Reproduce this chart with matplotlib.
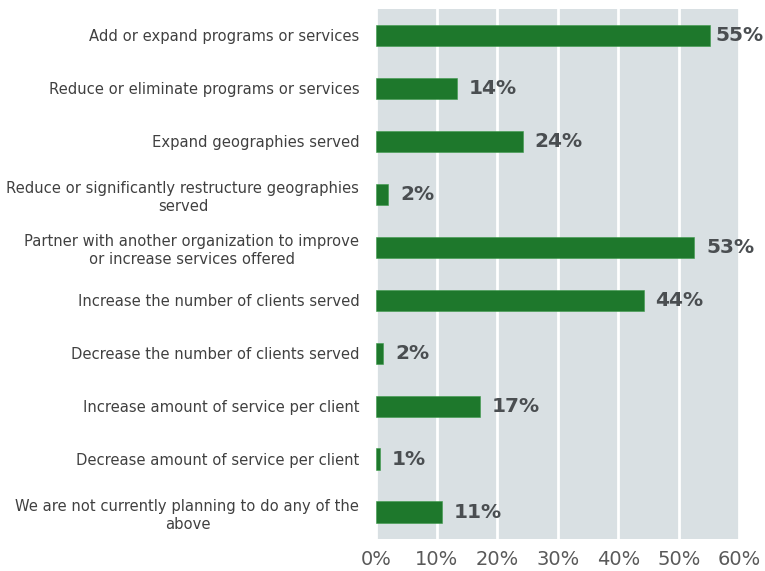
#!/usr/bin/env python3
"""Planned changes: horizontal bar chart of share of respondents."""
import matplotlib
matplotlib.use('Agg')
import matplotlib.pyplot as plt
from matplotlib.ticker import FuncFormatter

CATEGORIES = [
    'Add or expand programs or services',
    'Reduce or eliminate programs or services',
    'Expand geographies served',
    'Reduce or significantly restructure geographies\nserved',
    'Partner with another organization to improve\nor increase services offered',
    'Increase the number of clients served',
    'Decrease the number of clients served',
    'Increase amount of service per client',
    'Decrease amount of service per client',
    'We are not currently planning to do any of the\nabove',
]
VALUES = [55.2, 13.4, 24.2, 2.0, 52.6, 44.2, 1.2, 17.2, 0.7, 10.9]
VALUE_LABELS = ['55%', '14%', '24%', '2%', '53%', '44%', '2%', '17%', '1%', '11%']
X_TICKS = [0, 10, 20, 30, 40, 50, 60]

BAR_COLOR = '#1e782c'
BG_COLOR = '#d9e0e3'
TEXT_COLOR = '#404040'
VALUE_COLOR = '#4a4e51'

W, H = 765, 571
fig = plt.figure(figsize=(W / 100, H / 100), dpi=100)
ax = fig.add_axes([376 / W, 1 - 538.5 / H, 363.3 / W, 529.5 / H])
ax.set_facecolor(BG_COLOR)

ypos = list(range(len(CATEGORIES)))
ax.barh(ypos, VALUES, height=0.4, color=BAR_COLOR, edgecolor='#3d9a4a',
        linewidth=0.4, zorder=3)

ax.set_xlim(0, 60)
ax.set_ylim(len(CATEGORIES) - 0.5, -0.5)
ax.set_xticks(X_TICKS)
ax.xaxis.set_major_formatter(FuncFormatter(lambda v, _: f'{v:.0f}%'))
ax.grid(axis='x', color='white', linewidth=2, zorder=1)
ax.set_axisbelow(True)
for s in ax.spines.values():
    s.set_visible(False)
ax.tick_params(axis='x', length=0, pad=8, labelsize=14, labelcolor='#595959')
ax.tick_params(axis='y', length=0, pad=12)
ax.set_yticks(ypos)
ax.set_yticklabels(CATEGORIES, fontsize=10.6, color=TEXT_COLOR,
                   multialignment='center', linespacing=1.25)

texts = []
for y, v, lab in zip(ypos, VALUES, VALUE_LABELS):
    t = ax.annotate(lab, (v, y), xytext=(8.6, 0), textcoords='offset points',
                    ha='left', va='center', fontsize=14.5, fontweight='bold',
                    color=VALUE_COLOR, annotation_clip=False)
    texts.append(t)

# keep value labels inside the figure
fig.canvas.draw()
r = fig.canvas.get_renderer()
for t in texts:
    bb = t.get_window_extent(r)
    if bb.x1 > W - 1:
        ox, oy = t.xyann
        t.xyann = (ox - (bb.x1 - W + 1) * 72 / 100, oy)

fig.savefig('out.png', dpi=100, facecolor='white')
